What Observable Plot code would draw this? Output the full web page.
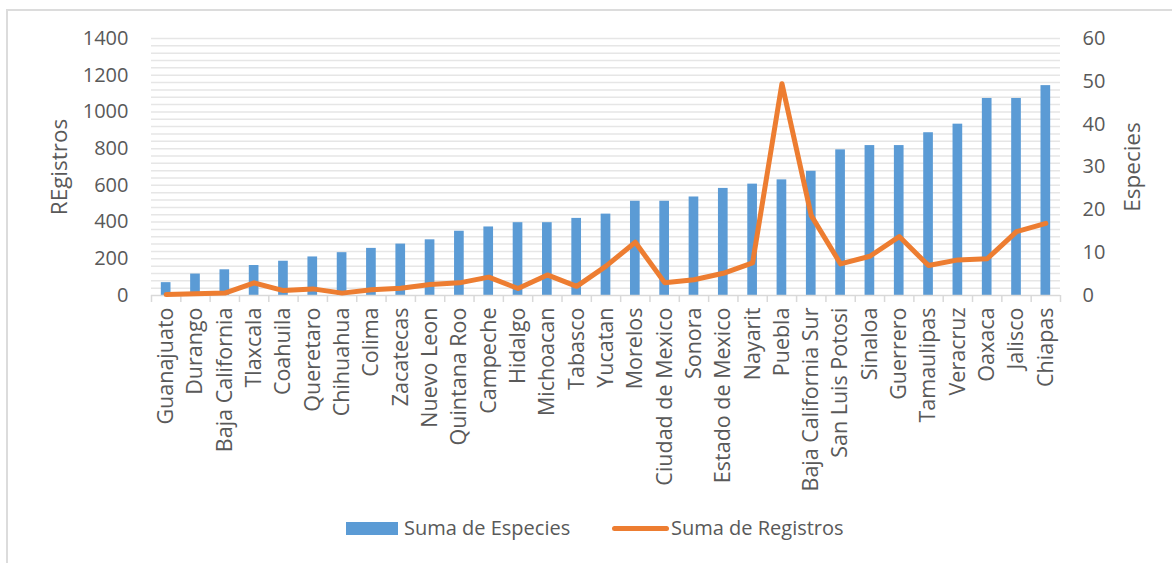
<!DOCTYPE html>
<html>
<head>
<meta charset="utf-8">
<script src="https://cdn.jsdelivr.net/npm/d3@7"></script>
<script src="https://cdn.jsdelivr.net/npm/@observablehq/plot@0.6"></script>
<style>
  html, body { margin: 0; padding: 0; background: #fff; }
  #wrap { position: relative; width: 1172px; height: 563px; overflow: hidden; font-family: "Open Sans", sans-serif; }
  #frame { position: absolute; left: 6px; top: 9px; width: 1300px; height: 700px; border-left: 2px solid #dcdcdc; border-top: 2px solid #dcdcdc; }
  #chart { position: absolute; left: 0; top: 0; }
  #legend { position: absolute; left: 0; top: 512px; width: 1172px; height: 34px; font-size: 20px; color: #595959; }
  .sw { position: absolute; }
  .lt { position: absolute; top: 0; line-height: 32px; white-space: nowrap; }
</style>
</head>
<body>
<div id="wrap">
  <div id="frame"></div>
  <div id="chart"></div>
  <div id="legend">
    <div class="sw" style="left:346px; top:10px; width:52px; height:13px; background:#5b9bd5;"></div>
    <div class="lt" style="left:404px;">Suma de Especies</div>
    <div class="sw" style="left:612px; top:14px; width:57px; height:5px; border-radius:3px; background:#ed7d31;"></div>
    <div class="lt" style="left:671px;">Suma de Registros</div>
  </div>
</div>
<script>
const categories = ["Guanajuato","Durango","Baja California","Tlaxcala","Coahuila","Queretaro","Chihuahua","Colima","Zacatecas","Nuevo Leon","Quintana Roo","Campeche","Hidalgo","Michoacan","Tabasco","Yucatan","Morelos","Ciudad de Mexico","Sonora","Estado de Mexico","Nayarit","Puebla","Baja California Sur","San Luis Potosi","Sinaloa","Guerrero","Tamaulipas","Veracruz","Oaxaca","Jalisco","Chiapas"];
const especies = [3,5,6,7,8,9,10,11,12,13,15,16,17,17,18,19,22,22,23,25,26,27,29,34,35,35,38,40,46,46,49];
const registros = [5,9,13,69,27,36,13,31,40,60,69,100,38,112,50,160,290,70,86,121,178,1154,435,172,214,321,163,194,200,348,393];
const leftTicks = [0,200,400,600,800,1000,1200,1400];
const rightTicks = [0,10,20,30,40,50,60];

const LEFT_MAX = 1400, RIGHT_MAX = 60;
const toLeft = v => v * LEFT_MAX / RIGHT_MAX;
const data = categories.map((c, i) => ({i, c, especies: especies[i], registros: registros[i]}));
const half = 0.165;

const chart = Plot.plot({
  width: 1172,
  height: 500,
  marginLeft: 151,
  marginRight: 112,
  marginTop: 38,
  marginBottom: 205,
  style: {fontFamily: "Open Sans, sans-serif", fontSize: "22px", color: "#595959", background: "transparent", overflow: "visible"},
  x: {type: "linear", domain: [-0.5, categories.length - 0.5], label: null},
  y: {domain: [0, LEFT_MAX], label: null},
  marks: [
    Plot.gridY({ticks: d3.range(40, LEFT_MAX + 1, 40), stroke: "#e6e6e6", strokeOpacity: 1, strokeWidth: 1.5}),
    Plot.rectY(data, {x1: d => d.i - half, x2: d => d.i + half, y1: 0, y2: d => toLeft(d.especies), fill: "#5b9bd5"}),
    Plot.ruleY([0], {stroke: "#d9d9d9", strokeWidth: 1.5}),
    Plot.axisX({ticks: d3.range(-0.5, categories.length, 1), tickSize: 7, tickFormat: () => "", stroke: "#d9d9d9", strokeWidth: 1.5, label: null}),
    Plot.lineY(data, {x: "i", y: "registros", stroke: "#ed7d31", strokeWidth: 5, strokeLinejoin: "round", strokeLinecap: "round"}),
    Plot.axisX({ticks: d3.range(categories.length), tickFormat: i => categories[i], tickSize: 0, tickPadding: 12, tickRotate: -90, fontSize: 21.5, label: null}),
    Plot.axisY({anchor: "left", ticks: leftTicks, tickFormat: d => String(d), tickSize: 0, tickPadding: 23, fontSize: 20, label: "REgistros", labelAnchor: "center", labelArrow: "none", labelOffset: 100}),
    Plot.axisY({anchor: "right", ticks: rightTicks.map(toLeft), tickFormat: v => String(Math.round(v * RIGHT_MAX / LEFT_MAX)), tickSize: 0, tickPadding: 22, fontSize: 20, label: "Especies", labelAnchor: "center", labelArrow: "none", labelOffset: 79})
  ]
});
chart.querySelectorAll('[aria-label="y-axis label"]').forEach(g => {
  g.setAttribute("font-size", "22.5");
  g.querySelectorAll("text").forEach(t => t.setAttribute("font-size", "22.5"));
});
document.getElementById("chart").appendChild(chart);
</script>
</body>
</html>
